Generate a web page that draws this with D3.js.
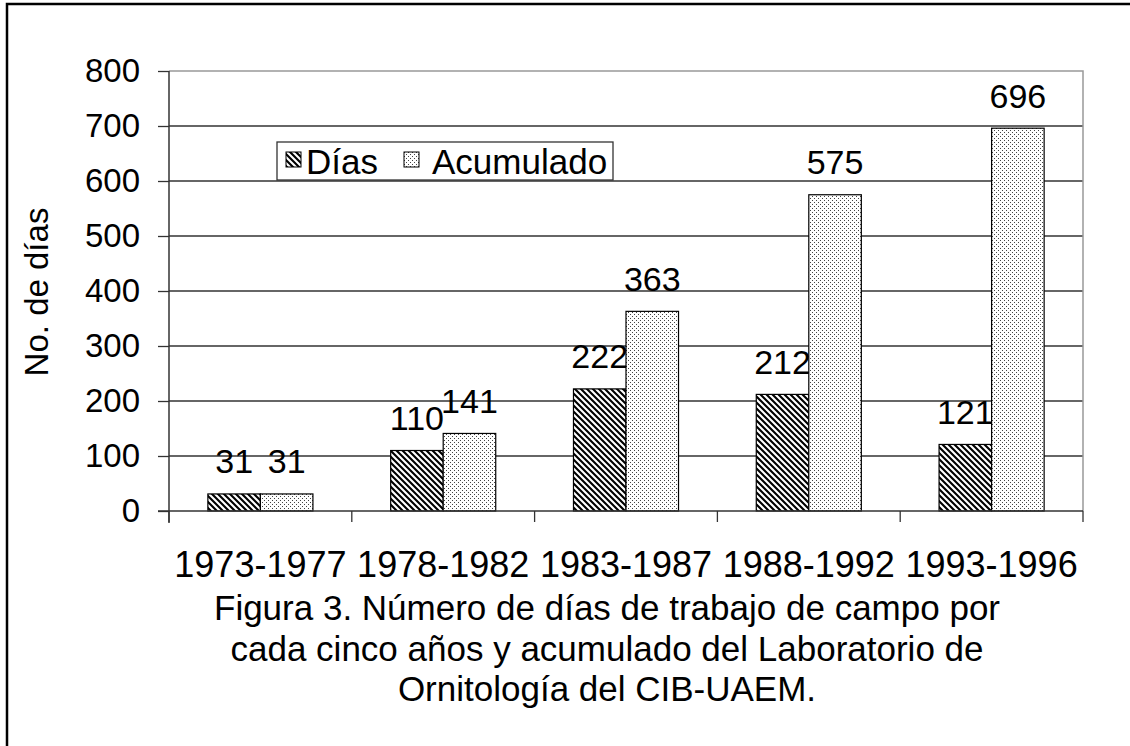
<!DOCTYPE html>
<html><head><meta charset="utf-8">
<script src="https://cdn.jsdelivr.net/npm/d3@7"></script>
<style>body{margin:0;background:#fff}svg{display:block;font-family:"Liberation Sans",Arial,sans-serif}</style>
</head><body>
<script>
const categories = ["1973-1977","1978-1982","1983-1987","1988-1992","1993-1996"];
const dias = [31,110,222,212,121];
const acumulado = [31,141,363,575,696];
const seriesNames = ["Días","Acumulado"];
const yTicks = [0,100,200,300,400,500,600,700,800];
const captionLines = ["Figura 3. Número de días de trabajo de campo por","cada cinco años y acumulado del Laboratorio de","Ornitología del CIB-UAEM."];

const W=1130,H=746;
const svg=d3.select("body").append("svg").attr("width",W).attr("height",H);
const defs=svg.append("defs");
const ph=defs.append("pattern").attr("id","hatch").attr("patternUnits","userSpaceOnUse").attr("width",6).attr("height",6);
ph.append("rect").attr("width",6).attr("height",6).attr("fill","#fff");
ph.append("path").attr("d","M-1,-1 L7,7 M-4,2 L2,8 M4,-2 L8,2").attr("stroke","#000").attr("stroke-width",2.1);
const pd=defs.append("pattern").attr("id","dots").attr("patternUnits","userSpaceOnUse").attr("width",4).attr("height",4);
pd.append("rect").attr("width",4).attr("height",4).attr("fill","#fff");
pd.append("rect").attr("x",0).attr("y",0).attr("width",1).attr("height",1).attr("fill","#444");
pd.append("rect").attr("x",2).attr("y",2).attr("width",1).attr("height",1).attr("fill","#444");
const fills=["url(#hatch)","url(#dots)"];

// outer frame
svg.append("rect").attr("x",7).attr("y",4).attr("width",1140).attr("height",760).attr("fill","none").attr("stroke","#000").attr("stroke-width",2.5);

const L=169,R=1083,T=71,B=511;
const x=d3.scaleBand().domain(categories).range([L,R]).paddingInner(0).paddingOuter(0);
const x1=d3.scaleBand().domain(seriesNames).range([0,x.bandwidth()]).paddingInner(0).paddingOuter(0.74);
const y=d3.scaleLinear().domain([0,800]).range([B,T]);

// gridlines
svg.append("g").selectAll("line").data(yTicks.filter(d=>d>0&&d<800)).join("line")
 .attr("x1",L).attr("x2",R).attr("y1",d=>y(d)).attr("y2",d=>y(d)).attr("stroke","#333").attr("stroke-width",1.3);
// plot border top/right
svg.append("path").attr("d",`M${L},${T}H${R}V${B}`).attr("fill","none").attr("stroke","#999").attr("stroke-width",1.5);

// bars
const data=categories.map((c,i)=>({c,vals:[dias[i],acumulado[i]]}));
const g=svg.append("g");
data.forEach(d=>{
  d.vals.forEach((v,j)=>{
    const bx=x(d.c)+x1(seriesNames[j]);
    g.append("rect").attr("x",bx).attr("y",y(v)).attr("width",x1.bandwidth()).attr("height",B-y(v))
     .attr("fill",fills[j]).attr("stroke","#000").attr("stroke-width",1.2);
    g.append("text").attr("x",bx+x1.bandwidth()/2).attr("y",y(v)-20.5).attr("text-anchor","middle")
     .attr("font-size",34).text(v);
  });
});

// y axis
const ya=svg.append("g").attr("transform",`translate(${L},0)`).call(d3.axisLeft(y).tickValues(yTicks).tickSize(11).tickPadding(18));
ya.select(".domain").attr("stroke","#333").attr("stroke-width",1.5).attr("d",`M0,${T}V${B+12}`);
ya.selectAll(".tick line").attr("stroke","#333").attr("stroke-width",1.3);
ya.selectAll(".tick text").attr("font-size",33).attr("font-family","Liberation Sans, Arial, sans-serif").attr("fill","#000");
// x axis
const xa=svg.append("g").attr("transform",`translate(0,${B})`);
xa.append("line").attr("x1",L-11).attr("x2",R).attr("stroke","#333").attr("stroke-width",1.5);
const bounds=categories.map(c=>x(c)).concat([R]);
xa.selectAll(".tk").data(bounds).join("line").attr("class","tk").attr("x1",d=>d).attr("x2",d=>d).attr("y1",0).attr("y2",11).attr("stroke","#333").attr("stroke-width",1.3);
xa.selectAll(".lbl").data(categories).join("text").attr("class","lbl").attr("x",d=>x(d)+x.bandwidth()/2).attr("y",66)
 .attr("text-anchor","middle").attr("font-size",36).text(d=>d);

// y label
svg.append("text").attr("transform","translate(48,292) rotate(-90)").attr("text-anchor","middle").attr("font-size",33).text("No. de días");

// caption
svg.append("g").selectAll("text").data(captionLines).join("text").attr("x",607).attr("y",(d,i)=>620+i*40.5)
 .attr("text-anchor","middle").attr("font-size",35).text(d=>d);

// legend
const lg=svg.append("g");
lg.append("rect").attr("x",277).attr("y",142).attr("width",336).attr("height",38).attr("fill","#fff").attr("stroke","#333").attr("stroke-width",1.3);
const legX=[286,404], legTX=[306,432];
seriesNames.forEach((s,j)=>{
  lg.append("rect").attr("x",legX[j]).attr("y",152).attr("width",15).attr("height",15).attr("fill",fills[j]).attr("stroke","#000").attr("stroke-width",1);
  lg.append("text").attr("x",legTX[j]).attr("y",174).attr("font-size",35).text(s);
});
</script>
</body></html>
